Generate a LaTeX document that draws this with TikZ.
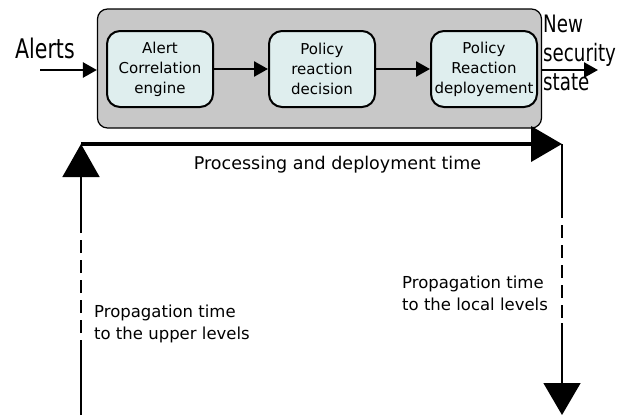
\documentclass[tikz,border=0pt]{standalone}
\usepackage{fontspec}
\setmainfont{DejaVu Sans}
\newfontfamily\narrowfont{DejaVu Sans}[FakeStretch=0.76]
\usetikzlibrary{arrows.meta,positioning}
\definecolor{framegray}{RGB}{200,200,200}
\definecolor{stagecyan}{RGB}{223,238,238}

\begin{document}
\begin{tikzpicture}[
  x=1pt, y=-1pt,
  node distance=54pt,
  frame/.style={rectangle, rounded corners=10pt, draw, line width=1.2pt, fill=framegray, minimum width=444pt, minimum height=119pt},
  stage/.style={rectangle, rounded corners=13pt, draw, line width=2pt, fill=stagecyan, align=center, minimum width=106pt, minimum height=76pt, inner sep=2pt, font=\fontsize{15}{20}\selectfont},
  flow/.style={-{Triangle[length=14pt,width=15pt]}, line width=2.5pt},
  timeline/.style={-{Triangle[length=31pt,width=35pt]}, line width=4pt},
  prop/.style={line width=1.5pt},
  gap/.style={prop, dash pattern=on 13pt off 7pt},
  note/.style={align=left, inner sep=0pt, anchor=north west, font=\fontsize{16.5}{21.5}\selectfont}
]
  \useasboundingbox (0,0) rectangle (618,418);

  % processing chain
  \node[frame] (engine) at (319.5,68.5) {};
  \node[stage] (correl) at (160,69) {Alert\\Correlation\\engine};
  \node[stage, right=of correl] (decision) {Policy\\reaction\\decision};
  \node[stage, right=of decision] (deploy) {Policy\\Reaction\\deployement};

  \node[anchor=base west, inner sep=0pt, font=\narrowfont\fontsize{27}{27}\selectfont] (alerts) at (15,58) {Alerts};
  \node[anchor=north west, align=left, inner sep=0pt, font=\narrowfont\fontsize{24}{29}\selectfont] (newstate) at (543,15) {New\\security\\state};
  \coordinate (in) at (40,70);
  \coordinate (out) at (598,70);

  \draw[flow] (in) -- (in -| engine.west);
  \draw[flow] (correl) -- (decision);
  \draw[flow] (decision) -- (deploy);
  \draw[flow] (out -| engine.east) -- (out);

  % time axes
  \coordinate (tl) at (81,144);
  \coordinate (tr) at (562,144);
  \coordinate (upbot) at (81,415);
  \coordinate (upgap1) at (81,230);
  \coordinate (upgap2) at (81,353);
  \coordinate (dngap1) at (562,205);
  \coordinate (dngap2) at (562,323);
  \coordinate (dntip) at (562,415);

  \draw[timeline] (tl) -- (tr);
  \node[anchor=base, font=\fontsize{17.5}{21}\selectfont] (proctime) at (337.5,169) {Processing and deployment time};

  \draw[prop, -{Triangle[length=33pt,width=37pt]}] (upgap1) -- (tl);
  \draw[gap] (upgap2) -- (upgap1);
  \draw[prop] (upbot) -- (upgap2);

  \draw[prop] (tr) -- (dngap1);
  \draw[gap] (dngap1) -- (dngap2);
  \draw[prop, -{Triangle[length=32pt,width=37pt]}] (dngap2) -- (dntip);

  \node[note] (upper) at (94,305) {Propagation time\\to the upper levels};
  \node[note] (local) at (402,276) {Propagation time\\to the local levels};
\end{tikzpicture}
\end{document}
